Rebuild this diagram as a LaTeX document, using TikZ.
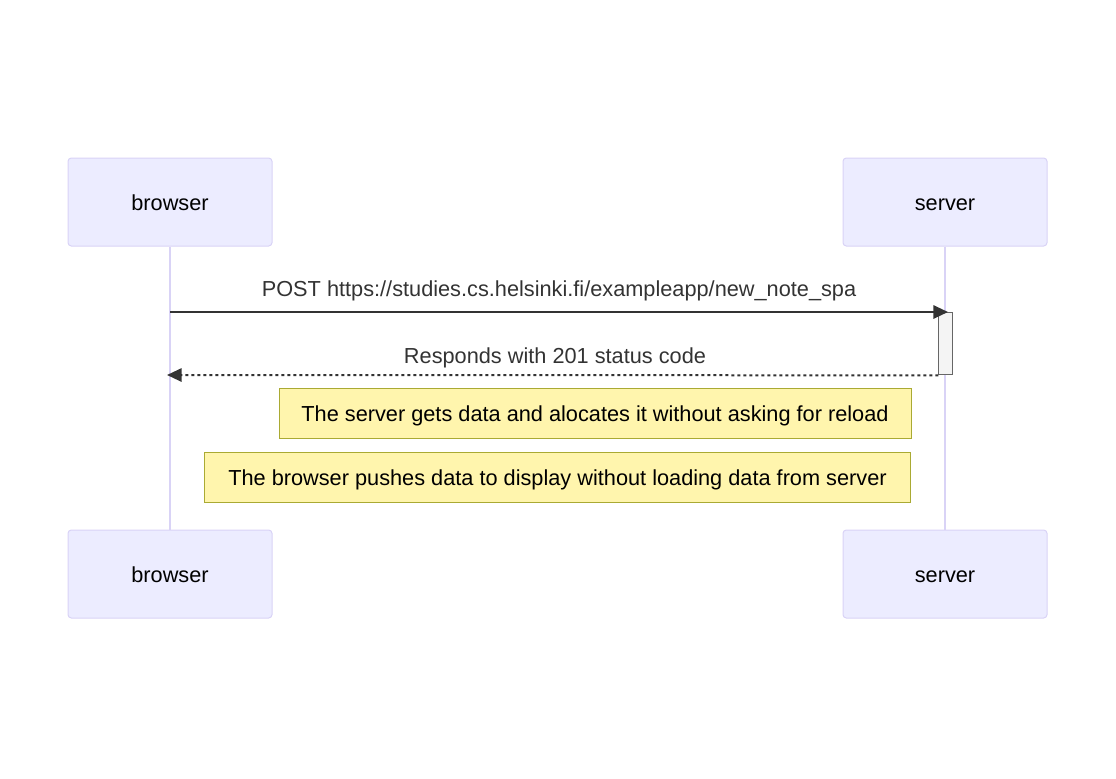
\documentclass[tikz,border=0pt]{standalone}
\usepackage{fontspec}
\setmainfont{Liberation Sans}
\usetikzlibrary{arrows.meta}

\definecolor{actorfill}{HTML}{ECECFF}
\definecolor{actorline}{HTML}{D9D3F6}
\definecolor{notefill}{HTML}{FFF5AD}
\definecolor{noteline}{HTML}{AAAA33}
\definecolor{msgline}{HTML}{333333}
\definecolor{actfill}{HTML}{F4F4F4}
\definecolor{actline}{HTML}{666666}

\tikzset{
  txt/.style={text height=12pt, text depth=0pt},
  actor/.style={txt, draw=actorline, fill=actorfill, line width=0.75pt, rounded corners=2.5pt,
    minimum width=153pt, minimum height=66pt, inner sep=0pt, text=black},
  lifeline/.style={draw=actorline, line width=1.5pt},
  note/.style={txt, draw=noteline, fill=notefill, line width=0.75pt,
    minimum height=37.5pt, inner sep=0pt, text=black},
  msg/.style={draw=msgline, line width=1.5pt},
  msglabel/.style={txt, text=msgline, inner sep=0pt},
  activation/.style={draw=actline, fill=actfill, line width=0.75pt,
    minimum width=10pt, minimum height=47pt, inner sep=0pt}
}

\begin{document}
\begin{tikzpicture}[x=0.75pt, y=-0.75pt, >={Triangle[length=11pt,width=10pt]},
  font=\fontsize{16.3}{20}\selectfont]
\useasboundingbox (0,0) rectangle (1116,778);

% participants
\node[actor] (browserTop) at (170,202) {browser};
\node[actor] (serverTop) at (945,202) {server};
\node[actor] (browserBot) at (170,574) {browser};
\node[actor] (serverBot) at (945,574) {server};

% lifelines
\draw[lifeline] (browserTop.south) -- (browserBot.north);
\draw[lifeline] (serverTop.south) -- (serverBot.north);

% activation on server
\node[activation] (act) at (945.5,343.5) {};

% request
\coordinate (postStart) at (170,312);
\coordinate (postEnd) at (948,312);
\draw[msg,->] (postStart) -- (postEnd);
\node[msglabel] (postLabel) at (559,288) {POST https://studies.cs.helsinki.fi/exampleapp/new\_note\_spa};

% response
\coordinate (respEnd) at (167,375);
\draw[msg,->,dash pattern=on 2.25pt off 2.25pt] (act.south west) -- (respEnd);
\node[msglabel] (respLabel) at (555,355) {Responds with 201 status code};

% notes
\node[note, minimum width=474pt] (noteServer) at (595,413) {The server gets data and alocates it without asking for reload};
\node[note, minimum width=530pt] (noteBrowser) at (557.5,477) {The browser pushes data to display without loading data from server};
\end{tikzpicture}
\end{document}
